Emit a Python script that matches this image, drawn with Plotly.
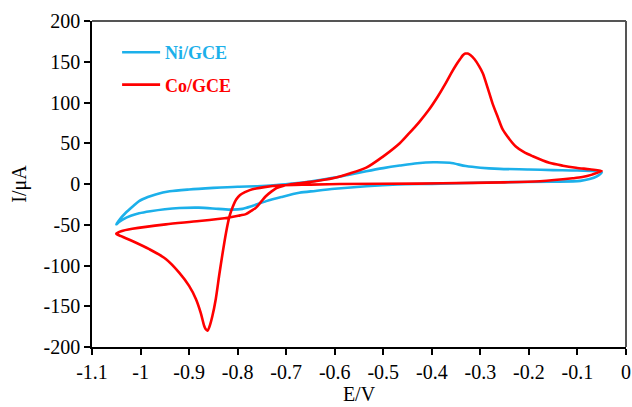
import plotly.graph_objects as go

# Ni/GCE cyclic voltammogram (cathodic scan then anodic scan)
ni_E = [-0.05, -0.06, -0.075, -0.094, -0.15, -0.26, -0.40, -0.47, -0.535, -0.60,
        -0.64, -0.673, -0.71, -0.741, -0.77, -0.79, -0.811, -0.84, -0.88, -0.92,
        -0.95, -0.98, -1.003, -1.02, -1.035, -1.045, -1.05,
        -1.045, -1.03, -1.015, -1.003, -0.985, -0.969, -0.94, -0.90, -0.85,
        -0.80, -0.76, -0.72, -0.69, -0.65, -0.604, -0.57, -0.535, -0.50, -0.466,
        -0.43, -0.397, -0.363, -0.33, -0.30, -0.26, -0.20, -0.15, -0.10, -0.05]
ni_I = [14.5, 9.5, 6.0, 3.8, 2.8, 2.2, 0.2, -0.6, -2.7, -5.9,
        -8.5, -10.8, -16.0, -21.0, -27.0, -30.5, -31.5, -30.5, -29.0, -29.5,
        -31.0, -33.5, -36.0, -39.0, -43.0, -47.0, -49.5,
        -45.0, -35.0, -27.0, -21.0, -16.0, -12.8, -9.0, -6.7, -4.8,
        -3.3, -2.7, -1.2, 0.5, 3.0, 7.5, 11.5, 15.7, 19.5, 22.6,
        25.5, 26.7, 26.0, 22.0, 20.0, 18.6, 17.8, 17.0, 16.5, 14.5]

# Co/GCE cyclic voltammogram (cathodic scan then anodic scan)
co_E = [-0.05, -0.07, -0.09, -0.11, -0.177, -0.25, -0.315, -0.43, -0.59, -0.65,
        -0.714, -0.745, -0.762, -0.775, -0.785, -0.795, -0.803, -0.81, -0.817, -0.824, -0.831,
        -0.838, -0.845, -0.852, -0.858, -0.862, -0.866, -0.869, -0.876, -0.886,
        -0.900, -0.920, -0.948, -0.982, -1.017, -1.04, -1.05,
        -1.04, -1.017, -0.948, -0.879, -0.817, -0.795, -0.783, -0.772, -0.762,
        -0.752, -0.742, -0.73, -0.72, -0.705, -0.693, -0.673, -0.64, -0.604,
        -0.571, -0.535, -0.502, -0.466, -0.447, -0.426, -0.406, -0.388, -0.371,
        -0.36, -0.35, -0.342, -0.336, -0.331, -0.326, -0.32, -0.312, -0.303,
        -0.295, -0.285, -0.275, -0.264, -0.254, -0.24, -0.227, -0.21, -0.192,
        -0.158, -0.13, -0.103, -0.075, -0.05]
co_I = [16.0, 11.5, 8.5, 7.0, 3.4, 2.0, 1.4, 0.5, 0.0, -0.8,
        -1.8, -3.8, -5.5, -7.5, -10.0, -13.5, -19.0, -28.0, -40.0, -60.0, -85.0,
        -112.0, -141.0, -162.0, -175.0, -180.0, -178.0, -174.0, -158.0, -141.0,
        -125.0, -109.0, -92.0, -80.0, -70.0, -64.0, -61.0,
        -58.0, -55.0, -49.5, -45.5, -41.0, -38.5, -37.0, -33.0, -29.0,
        -22.0, -15.0, -9.0, -5.0, -2.0, -0.6, 1.0, 3.4, 7.0,
        12.5, 20.0, 33.0, 50.0, 62.0, 76.0, 91.0, 107.0, 124.0,
        136.0, 146.0, 153.0, 158.0, 160.0, 160.0, 158.0, 153.0, 145.0,
        136.0, 118.0, 99.0, 82.0, 67.0, 55.0, 46.0, 39.0, 34.0,
        26.0, 22.5, 20.0, 18.0, 16.0]

x_ticks = [-1.1, -1.0, -0.9, -0.8, -0.7, -0.6, -0.5, -0.4, -0.3, -0.2, -0.1, 0.0]
x_labels = ["-1.1", "-1", "-0.9", "-0.8", "-0.7", "-0.6", "-0.5", "-0.4", "-0.3", "-0.2", "-0.1", "0"]
y_ticks = [-200, -150, -100, -50, 0, 50, 100, 150, 200]
y_labels = ["-200", "-150", "-100", "-50", "0", "50", "100", "150", "200"]

BLUE = "#1CB0EA"
RED = "#FF0000"
FONT = "Liberation Serif"

fig = go.Figure()
fig.add_trace(go.Scatter(
    x=ni_E, y=ni_I, mode="lines", line=dict(color=BLUE, width=2.6, shape="spline", smoothing=0.8),
    name=f'<span style="color:{BLUE}"><b>Ni/GCE</b></span>', legendgroup="ni"))
fig.add_trace(go.Scatter(
    x=co_E, y=co_I, mode="lines", line=dict(color=RED, width=2.6, shape="spline", smoothing=0.8),
    name=f'<span style="color:{RED}"><b>Co/GCE</b></span>', legendgroup="co"))

fig.update_layout(
    width=632, height=407,
    margin=dict(l=92, r=6, t=21, b=60, autoexpand=False),
    paper_bgcolor="white", plot_bgcolor="white",
    font=dict(family=FONT, size=20, color="black"),
    showlegend=True,
    legend=dict(x=0.047, y=0.96, xanchor="left", yanchor="top",
                font=dict(family=FONT, size=18), bgcolor="rgba(0,0,0,0)",
                tracegroupgap=6, itemwidth=38),
    shapes=[
        dict(type="line", xref="paper", yref="paper", x0=0, x1=1, y0=1, y1=1,
             line=dict(color="#555555", width=2)),
        dict(type="line", xref="paper", yref="paper", x0=1, x1=1, y0=0, y1=1,
             line=dict(color="#555555", width=2)),
    ],
)
fig.update_xaxes(
    range=[-1.1, 0], tickmode="array", tickvals=x_ticks, ticktext=x_labels,
    showgrid=False, zeroline=False, showline=True, linecolor="black", linewidth=1.5,
    ticks="outside", ticklen=6, tickcolor="black", tickwidth=1.5, automargin=False,
    title=dict(text="E/V", font=dict(family=FONT, size=20), standoff=0),
)
fig.update_yaxes(
    range=[-200, 200], tickmode="array", tickvals=y_ticks, ticktext=y_labels,
    showgrid=False, zeroline=False, showline=True, linecolor="black", linewidth=1.5,
    ticks="outside", ticklen=6, tickcolor="black", tickwidth=1.5, automargin=False,
    title=dict(text="I/μA", font=dict(family=FONT, size=20), standoff=12),
)

fig.write_html("out.html", config={"displayModeBar": False},
               post_script="document.body.style.margin='0';")
